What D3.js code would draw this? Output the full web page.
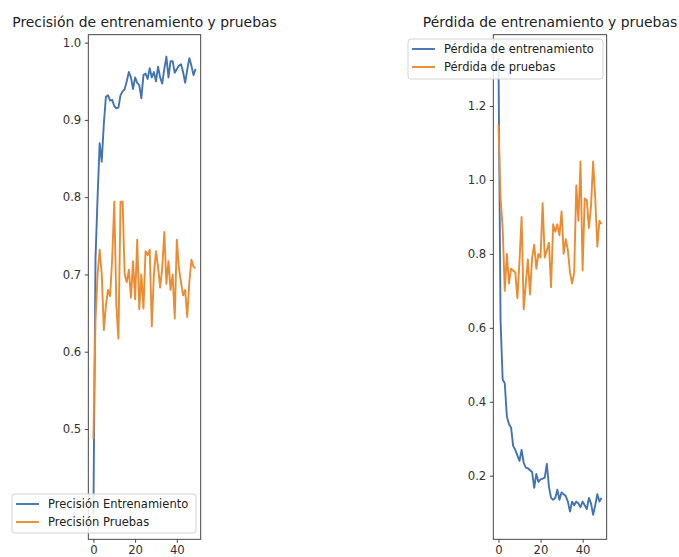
<!DOCTYPE html>
<html>
<head>
<meta charset="utf-8">
<script src="https://cdn.jsdelivr.net/npm/d3@7"></script>
<style>
  html, body { margin: 0; padding: 0; background: #ffffff; }
  svg { display: block; font-family: "DejaVu Sans", sans-serif; }
</style>
</head>
<body>
<svg id="chart" width="679" height="557"></svg>
<script>
// ---- data ----
const epochs = d3.range(50);
const accTrain = [0.39,0.72,0.80,0.870,0.846,0.895,0.930,0.932,0.925,0.926,
  0.918,0.915,0.916,0.932,0.937,0.940,0.950,0.962,0.955,0.940,
  0.955,0.948,0.945,0.928,0.958,0.960,0.953,0.967,0.955,0.962,
  0.950,0.969,0.955,0.947,0.966,0.982,0.955,0.976,0.976,0.961,
  0.966,0.970,0.972,0.962,0.948,0.965,0.980,0.970,0.958,0.966];
const accTest = [0.487,0.64,0.70,0.732,0.70,0.628,0.66,0.68,0.672,0.72,
  0.794,0.66,0.617,0.794,0.794,0.70,0.69,0.706,0.67,0.717,
  0.668,0.745,0.655,0.70,0.656,0.73,0.725,0.732,0.633,0.70,
  0.73,0.71,0.683,0.708,0.755,0.688,0.717,0.68,0.70,0.643,
  0.745,0.708,0.69,0.673,0.68,0.645,0.69,0.719,0.71,0.708];
const lossTrain = [1.33,0.62,0.46,0.45,0.36,0.34,0.33,0.28,0.27,0.255,
  0.24,0.27,0.235,0.222,0.22,0.215,0.21,0.167,0.205,0.183,
  0.19,0.192,0.195,0.232,0.17,0.14,0.135,0.14,0.162,0.135,
  0.155,0.15,0.145,0.13,0.103,0.13,0.12,0.13,0.125,0.115,
  0.13,0.12,0.11,0.14,0.125,0.094,0.12,0.15,0.13,0.14];
const lossTest = [1.15,0.95,0.87,0.70,0.80,0.72,0.76,0.755,0.75,0.68,
  0.78,0.90,0.65,0.72,0.785,0.69,0.79,0.825,0.76,0.80,
  0.79,0.937,0.79,0.81,0.83,0.71,0.88,0.86,0.88,0.85,
  0.915,0.80,0.84,0.81,0.75,0.72,0.75,0.985,0.89,1.05,
  0.755,0.95,0.945,0.87,0.93,1.05,0.95,0.82,0.89,0.88];
const xTicks = [0, 20, 40];
const accTicks = [0.5, 0.6, 0.7, 0.8, 0.9, 1.0];
const lossTicks = [0.2, 0.4, 0.6, 0.8, 1.0, 1.2];
const titles = ["Precisión de entrenamiento y pruebas", "Pérdida de entrenamiento y pruebas"];
const accLabels = ["Precisión Entrenamiento", "Precisión Pruebas"];
const lossLabels = ["Pérdida de entrenamiento", "Pérdida de pruebas"];
const colors = ["#4273b3", "#ec8b30"];

const svg = d3.select("#chart");

function panel(cfg) {
  const x = d3.scaleLinear().domain([-2.45, 51.45]).range([cfg.left, cfg.right]);
  const y = d3.scaleLinear().domain(cfg.ydom).range([cfg.bottom, cfg.top]);
  const g = svg.append("g");
  const clipId = "clip" + cfg.id;
  svg.append("clipPath").attr("id", clipId).append("rect")
    .attr("x", cfg.left).attr("y", cfg.top)
    .attr("width", cfg.right - cfg.left).attr("height", cfg.bottom - cfg.top);

  const line = d3.line().x((d, i) => x(epochs[i])).y(d => y(d));
  cfg.series.forEach((s, k) => {
    g.append("path").datum(s).attr("d", line)
      .attr("fill", "none").attr("stroke", colors[k])
      .attr("stroke-width", 1.9).attr("stroke-linejoin", "round")
      .attr("clip-path", `url(#${clipId})`);
  });

  // axes
  const xa = g.append("g").attr("transform", `translate(0,${cfg.bottom})`)
    .call(d3.axisBottom(x).tickValues(xTicks).tickFormat(d3.format("d")).tickSize(3.5).tickPadding(3));
  const ya = g.append("g").attr("transform", `translate(${cfg.left},0)`)
    .call(d3.axisLeft(y).tickValues(cfg.yticks).tickFormat(d3.format(".1f")).tickSize(3.5).tickPadding(3.5));
  [xa, ya].forEach(a => {
    a.select(".domain").remove();
    a.selectAll(".tick line").attr("stroke", "#333").attr("stroke-width", 0.9);
    a.selectAll(".tick text").attr("fill", "#333").style("font-size", "11.7px")
      .style("font-family", '"DejaVu Sans", sans-serif');
  });
  // frame
  g.append("rect").attr("x", cfg.left).attr("y", cfg.top)
    .attr("width", cfg.right - cfg.left).attr("height", cfg.bottom - cfg.top)
    .attr("fill", "none").attr("stroke", "#333").attr("stroke-width", 0.9);

  // title
  g.append("text").attr("x", (cfg.left + cfg.right) / 2).attr("y", 27)
    .attr("text-anchor", "middle").attr("fill", "#222")
    .style("font-size", "13.9px").text(cfg.title);

  // legend
  const L = cfg.legend;
  const lg = g.append("g");
  lg.append("rect").attr("x", L.x).attr("y", L.y).attr("width", L.w).attr("height", L.h)
    .attr("rx", 3).attr("fill", "#ffffff").attr("fill-opacity", 0.85)
    .attr("stroke", "#d4d4d4").attr("stroke-width", 1);
  cfg.labels.forEach((lab, k) => {
    const yy = L.y + 10 + k * 18;
    lg.append("line").attr("x1", L.x + 4).attr("x2", L.x + 27).attr("y1", yy).attr("y2", yy)
      .attr("stroke", colors[k]).attr("stroke-width", 1.9);
    lg.append("text").attr("x", L.x + 36).attr("y", yy).attr("dy", "0.35em")
      .attr("fill", "#222").style("font-size", "11.5px").text(lab);
  });
}

panel({ id: 1, left: 88.3, right: 200.7, top: 34.7, bottom: 539.3,
  ydom: [0.3572, 1.0103], yticks: accTicks, series: [accTrain, accTest],
  title: titles[0], labels: accLabels,
  legend: { x: 12, y: 494, w: 184, h: 39 } });

panel({ id: 2, left: 493.3, right: 606.7, top: 34.7, bottom: 539.3,
  ydom: [0.028, 1.3929], yticks: lossTicks, series: [lossTrain, lossTest],
  title: titles[1], labels: lossLabels,
  legend: { x: 408, y: 39, w: 195, h: 40 } });
</script>
</body>
</html>
